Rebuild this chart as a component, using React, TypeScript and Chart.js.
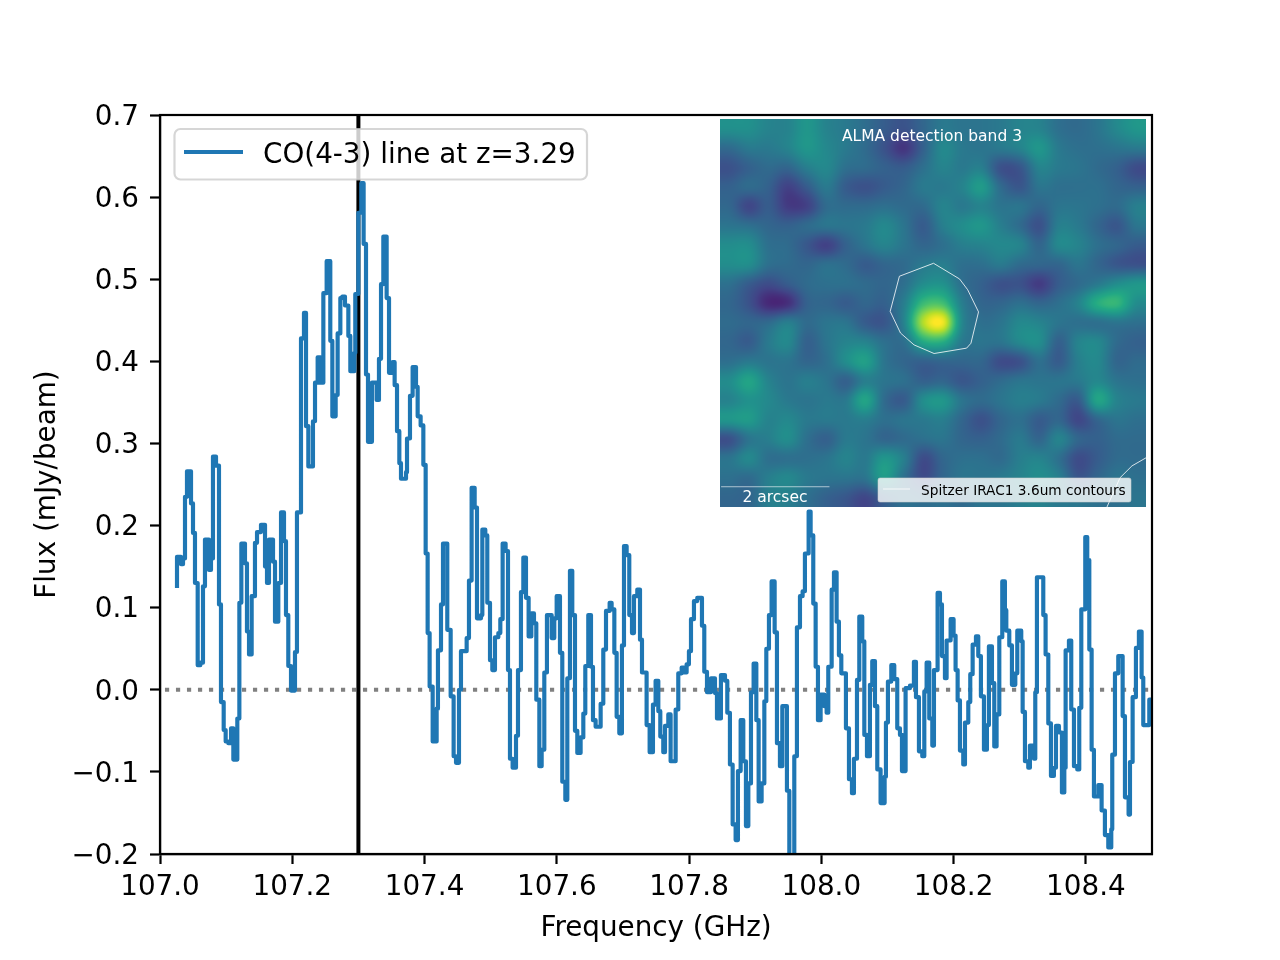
import { useEffect, useRef } from "react"
import { Chart, registerables } from "chart.js"

Chart.register(...registerables)

const FONT = "'DejaVu Sans', sans-serif"
const BLUE = "#1f77b4"

// channel edges (GHz) and flux (mJy/beam)
const freqs = [
  107.0257, 107.0257, 107.0318, 107.0348, 107.0378, 107.0408, 107.0469, 107.0499, 107.0529, 107.057,
  107.061, 107.065, 107.068, 107.0741, 107.0771, 107.0801, 107.0847, 107.0892, 107.0922, 107.0963,
  107.0993, 107.1033, 107.1074, 107.1109, 107.1169, 107.12, 107.123, 107.1285, 107.1315, 107.1346,
  107.1386, 107.1436, 107.1467, 107.1527, 107.1588, 107.1618, 107.1648, 107.1709, 107.1739, 107.1789,
  107.183, 107.1875, 107.1905, 107.194, 107.1981, 107.2041, 107.2071, 107.2132, 107.2177, 107.2208,
  107.2243, 107.2313, 107.2344, 107.2384, 107.2429, 107.247, 107.252, 107.2575, 107.2606, 107.2656,
  107.2686, 107.2727, 107.2757, 107.2797, 107.2848, 107.2878, 107.2938, 107.2953, 107.2999, 107.3044,
  107.3079, 107.3115, 107.3145, 107.3205, 107.3276, 107.3311, 107.3342, 107.3377, 107.3427, 107.3463,
  107.3518, 107.3548, 107.3584, 107.3619, 107.3644, 107.372, 107.3735, 107.378, 107.382, 107.3871,
  107.3896, 107.3941, 107.3982, 107.4017, 107.4047, 107.4077, 107.4123, 107.4183, 107.4203, 107.4249,
  107.4279, 107.4344, 107.4395, 107.444, 107.4476, 107.4521, 107.4551, 107.4637, 107.4672, 107.4712,
  107.4758, 107.4793, 107.4854, 107.4874, 107.4919, 107.4949, 107.499, 107.5025, 107.5065, 107.5116,
  107.5146, 107.5181, 107.5226, 107.5262, 107.5292, 107.5332, 107.5383, 107.5413, 107.5458, 107.5494,
  107.5534, 107.5574, 107.5615, 107.5655, 107.569, 107.5736, 107.5771, 107.5811, 107.5851, 107.5922,
  107.5962, 107.5998, 107.6048, 107.6083, 107.6129, 107.6159, 107.6199, 107.6234, 107.6275, 107.631,
  107.636, 107.6401, 107.6431, 107.6476, 107.6517, 107.6547, 107.6587, 107.6663, 107.6703, 107.6744,
  107.6799, 107.6829, 107.687, 107.6905, 107.6945, 107.6985, 107.7016, 107.7056, 107.7096, 107.7137,
  107.7167, 107.7217, 107.7258, 107.7288, 107.7358, 107.7404, 107.7454, 107.7494, 107.7535, 107.7565,
  107.761, 107.7636, 107.7686, 107.7721, 107.7797, 107.7837, 107.7888, 107.7923, 107.7963, 107.7998,
  107.8029, 107.8074, 107.8124, 107.8195, 107.823, 107.8271, 107.8331, 107.8392, 107.8422, 107.8482,
  107.8543, 107.8578, 107.8618, 107.8659, 107.8704, 107.8739, 107.878, 107.882, 107.886, 107.8896,
  107.8936, 107.8976, 107.9017, 107.9052, 107.9097, 107.9138, 107.9168, 107.9208, 107.9248, 107.9294,
  107.9329, 107.9374, 107.941, 107.948, 107.9516, 107.9591, 107.9631, 107.9677, 107.9717, 107.9752,
  107.9808, 107.9838, 107.9878, 107.9914, 107.9949, 107.9989, 108.0045, 108.008, 108.0105, 108.0156,
  108.0191, 108.0231, 108.0266, 108.0302, 108.0372, 108.0418, 108.0463, 108.0493, 108.0539, 108.0574,
  108.0619, 108.065, 108.069, 108.0735, 108.077, 108.0811, 108.0846, 108.0896, 108.0957, 108.0977,
  108.1007, 108.1058, 108.1103, 108.1148, 108.1189, 108.1219, 108.1274, 108.134, 108.14, 108.1431,
  108.1476, 108.1526, 108.1557, 108.1592, 108.1632, 108.1678, 108.1703, 108.1758, 108.1794, 108.1824,
  108.1869, 108.1894, 108.1955, 108.2, 108.203, 108.2061, 108.2096, 108.2146, 108.2172, 108.2222,
  108.2252, 108.2288, 108.2338, 108.2373, 108.2413, 108.2459, 108.2504, 108.2534, 108.258, 108.2615,
  108.265, 108.2691, 108.2736, 108.2776, 108.2797, 108.2842, 108.2882, 108.2933, 108.2963, 108.3023,
  108.3044, 108.3079, 108.3129, 108.3154, 108.3215, 108.3235, 108.326, 108.3356, 108.3391, 108.3432,
  108.3472, 108.3517, 108.3548, 108.3593, 108.3638, 108.3674, 108.3694, 108.3744, 108.3779, 108.382,
  108.387, 108.39, 108.3931, 108.3991, 108.4021, 108.4052, 108.4087, 108.4122, 108.4188, 108.4238,
  108.4288, 108.4339, 108.4384, 108.4399, 108.444, 108.449, 108.4556, 108.4591, 108.4646, 108.4667,
  108.4707, 108.4757, 108.4802, 108.4843, 108.4868, 108.4959, 108.4985, 108.5,
]
const flux = [
  0.124, 0.162, 0.153, 0.16, 0.235, 0.266, 0.227, 0.191, 0.13, 0.03,
  0.033, 0.126, 0.183, 0.146, 0.16, 0.284, 0.273, 0.104, -0.015, -0.049,
  -0.063, -0.065, -0.047, -0.085, -0.035, 0.106, 0.178, 0.154, 0.071, 0.043,
  0.114, 0.179, 0.192, 0.201, 0.15, 0.13, 0.183, 0.156, 0.083, 0.13,
  0.216, 0.181, 0.091, 0.029, -0.001, 0.046, 0.216, 0.428, 0.459, 0.321,
  0.272, 0.327, 0.374, 0.405, 0.374, 0.483, 0.522, 0.425, 0.333, 0.359,
  0.434, 0.477, 0.479, 0.468, 0.431, 0.388, 0.41, 0.482, 0.581, 0.617,
  0.543, 0.384, 0.302, 0.374, 0.353, 0.403, 0.494, 0.552, 0.477, 0.386,
  0.399, 0.371, 0.315, 0.276, 0.257, 0.265, 0.306, 0.358, 0.393, 0.369,
  0.333, 0.322, 0.274, 0.166, 0.069, 0.004, -0.063, -0.023, 0.048, 0.104,
  0.178, 0.073, -0.008, -0.081, -0.089, 0.0, 0.047, 0.063, 0.133, 0.246,
  0.222, 0.087, 0.091, 0.195, 0.188, 0.106, 0.036, 0.024, 0.064, 0.069,
  0.086, 0.178, 0.169, 0.024, -0.084, -0.095, -0.056, 0.024, 0.119, 0.161,
  0.112, 0.065, 0.093, 0.081, -0.012, -0.093, -0.073, 0.021, 0.091, 0.063,
  0.087, 0.114, 0.045, -0.112, -0.134, 0.014, 0.145, 0.091, -0.05, -0.077,
  -0.058, -0.029, 0.029, 0.091, 0.028, -0.037, -0.045, -0.017, 0.049, 0.096,
  0.106, 0.098, 0.045, -0.033, -0.053, 0.054, 0.175, 0.164, 0.091, 0.069,
  0.114, 0.122, 0.061, 0.021, -0.043, -0.076, -0.018, 0.011, -0.026, -0.057,
  -0.076, -0.044, -0.03, -0.087, -0.024, 0.02, 0.027, 0.021, 0.031, 0.047,
  0.086, 0.108, 0.112, 0.078, 0.022, -0.003, 0.014, -0.004, -0.035, 0.018,
  0.011, -0.028, -0.091, -0.164, -0.183, -0.099, -0.037, -0.087, -0.166, -0.114,
  -0.003, 0.032, -0.037, -0.136, -0.114, -0.014, 0.05, 0.091, 0.132, 0.07,
  -0.065, -0.093, -0.02, -0.123, -0.205, -0.081, 0.076, 0.114, 0.12, 0.166,
  0.217, 0.188, 0.105, 0.028, -0.037, -0.006, -0.02, -0.028, 0.028, 0.122,
  0.143, 0.083, 0.042, 0.02, -0.047, -0.109, -0.126, -0.084, 0.012, 0.089,
  0.059, -0.055, -0.081, 0.006, 0.035, -0.02, -0.097, -0.138, -0.106, -0.04,
  0.01, 0.03, 0.013, -0.047, -0.055, -0.099, 0.002, 0.005, 0.034, -0.009,
  -0.075, -0.081, -0.002, 0.033, -0.035, -0.068, 0.024, 0.118, 0.104, 0.041,
  0.014, 0.06, 0.086, 0.066, 0.024, -0.013, -0.074, -0.091, -0.04, -0.015,
  0.019, 0.055, 0.065, 0.041, -0.008, -0.073, -0.043, 0.053, 0.008, -0.069,
  -0.03, 0.064, 0.132, 0.097, 0.072, 0.054, 0.006, 0.02, 0.072, 0.059,
  -0.027, -0.087, -0.095, -0.068, -0.084, -0.003, 0.137, 0.091, 0.043, -0.041,
  -0.105, -0.095, -0.044, -0.052, -0.125, -0.095, 0.048, 0.06, -0.024, -0.093,
  -0.097, -0.022, 0.098, 0.186, 0.158, 0.049, -0.073, -0.13, -0.116, -0.147,
  -0.177, -0.192, -0.17, -0.079, 0.02, 0.041, -0.032, -0.131, -0.152, -0.088,
  -0.009, 0.051, 0.071, 0.015, -0.043, -0.012, -0.04, -0.04,
]

const xTicks = [107.0, 107.2, 107.4, 107.6, 107.8, 108.0, 108.2, 108.4]
const yTicks = [-0.2, -0.1, 0.0, 0.1, 0.2, 0.3, 0.4, 0.5, 0.6, 0.7]
const lineFreq = [107.3, 107.3]
const lineFlux = [-0.2, 0.7]
const zeroFreq = [107.0075, 108.5]
const zeroFlux = [0, 0]

// inset: ALMA map, normalised 0-1 on a 22 x 20 grid, top row first
const insetMap = [
  [0.47, 0.47, 0.42, 0.42, 0.5, 0.42, 0.38, 0.33, 0.26, 0.22, 0.3, 0.38, 0.36, 0.36, 0.38, 0.42, 0.42, 0.34, 0.32, 0.36, 0.44, 0.5],
  [0.32, 0.38, 0.38, 0.42, 0.5, 0.44, 0.38, 0.32, 0.22, 0.12, 0.28, 0.44, 0.38, 0.36, 0.38, 0.42, 0.5, 0.38, 0.34, 0.34, 0.36, 0.38],
  [0.22, 0.28, 0.32, 0.3, 0.4, 0.44, 0.34, 0.32, 0.28, 0.26, 0.34, 0.42, 0.38, 0.4, 0.22, 0.24, 0.42, 0.38, 0.36, 0.32, 0.28, 0.2],
  [0.28, 0.32, 0.28, 0.16, 0.26, 0.38, 0.26, 0.22, 0.26, 0.3, 0.38, 0.38, 0.42, 0.52, 0.32, 0.24, 0.36, 0.34, 0.34, 0.34, 0.3, 0.28],
  [0.3, 0.18, 0.26, 0.14, 0.16, 0.32, 0.32, 0.32, 0.34, 0.32, 0.32, 0.42, 0.38, 0.42, 0.36, 0.36, 0.3, 0.36, 0.36, 0.34, 0.32, 0.4],
  [0.36, 0.34, 0.3, 0.28, 0.32, 0.36, 0.36, 0.38, 0.44, 0.36, 0.26, 0.4, 0.46, 0.5, 0.4, 0.32, 0.22, 0.4, 0.38, 0.3, 0.24, 0.36],
  [0.46, 0.46, 0.34, 0.32, 0.24, 0.16, 0.28, 0.36, 0.42, 0.36, 0.3, 0.34, 0.4, 0.42, 0.44, 0.42, 0.3, 0.44, 0.42, 0.34, 0.3, 0.26],
  [0.46, 0.46, 0.34, 0.32, 0.3, 0.34, 0.32, 0.26, 0.3, 0.32, 0.38, 0.4, 0.34, 0.34, 0.38, 0.32, 0.3, 0.3, 0.36, 0.3, 0.24, 0.22],
  [0.34, 0.26, 0.2, 0.26, 0.32, 0.34, 0.34, 0.32, 0.3, 0.34, 0.46, 0.48, 0.34, 0.28, 0.22, 0.22, 0.14, 0.26, 0.32, 0.38, 0.46, 0.5],
  [0.3, 0.22, 0.08, 0.1, 0.28, 0.3, 0.26, 0.3, 0.28, 0.4, 0.66, 0.68, 0.4, 0.3, 0.3, 0.34, 0.3, 0.34, 0.42, 0.6, 0.64, 0.46],
  [0.32, 0.3, 0.32, 0.4, 0.32, 0.36, 0.36, 0.26, 0.24, 0.42, 0.88, 0.98, 0.44, 0.34, 0.36, 0.44, 0.42, 0.36, 0.34, 0.34, 0.36, 0.34],
  [0.3, 0.26, 0.38, 0.44, 0.28, 0.36, 0.42, 0.42, 0.34, 0.34, 0.58, 0.6, 0.38, 0.36, 0.36, 0.44, 0.46, 0.28, 0.42, 0.44, 0.32, 0.28],
  [0.34, 0.38, 0.36, 0.36, 0.3, 0.34, 0.46, 0.54, 0.36, 0.3, 0.28, 0.3, 0.3, 0.3, 0.2, 0.22, 0.34, 0.26, 0.4, 0.44, 0.3, 0.32],
  [0.46, 0.56, 0.42, 0.36, 0.4, 0.36, 0.28, 0.4, 0.36, 0.34, 0.28, 0.3, 0.24, 0.28, 0.32, 0.36, 0.36, 0.36, 0.38, 0.44, 0.36, 0.34],
  [0.42, 0.48, 0.44, 0.38, 0.36, 0.38, 0.38, 0.56, 0.32, 0.26, 0.46, 0.5, 0.36, 0.32, 0.36, 0.4, 0.38, 0.32, 0.26, 0.56, 0.42, 0.38],
  [0.5, 0.52, 0.42, 0.44, 0.38, 0.38, 0.38, 0.4, 0.34, 0.36, 0.38, 0.4, 0.3, 0.22, 0.3, 0.34, 0.26, 0.3, 0.18, 0.3, 0.36, 0.34],
  [0.22, 0.36, 0.4, 0.46, 0.34, 0.28, 0.38, 0.36, 0.3, 0.32, 0.34, 0.36, 0.3, 0.28, 0.32, 0.38, 0.3, 0.42, 0.3, 0.28, 0.32, 0.32],
  [0.36, 0.44, 0.34, 0.34, 0.34, 0.36, 0.42, 0.38, 0.5, 0.4, 0.2, 0.3, 0.34, 0.34, 0.32, 0.4, 0.42, 0.34, 0.2, 0.26, 0.32, 0.32],
  [0.34, 0.32, 0.4, 0.44, 0.38, 0.36, 0.36, 0.36, 0.52, 0.34, 0.2, 0.3, 0.36, 0.36, 0.38, 0.42, 0.46, 0.4, 0.24, 0.3, 0.36, 0.34],
  [0.3, 0.3, 0.4, 0.4, 0.34, 0.28, 0.24, 0.18, 0.28, 0.34, 0.32, 0.34, 0.32, 0.36, 0.36, 0.4, 0.42, 0.38, 0.36, 0.34, 0.34, 0.36],
]
const insetWidth = 7.86 // arcsec
const insetHeight = 7.18

// IRAC1 contours, arcsec from the lower left corner
const contourX = [3.94, 4.42, 4.57, 4.77, 4.63, 4.55, 3.95, 3.58, 3.33, 3.14, 3.31, 3.94]
const contourY = [4.51, 4.22, 4.02, 3.61, 3.03, 2.94, 2.84, 3.0, 3.22, 3.62, 4.27, 4.51]
const cornerX = [7.86, 7.6, 7.38, 7.14]
const cornerY = [0.91, 0.76, 0.54, 0.0]
const barX = [0.02, 2.02]
const barY = [0.375, 0.375]

const viridis = [
  [68, 1, 84], [72, 36, 117], [65, 68, 135], [53, 95, 141], [42, 120, 142],
  [33, 145, 140], [34, 168, 132], [68, 191, 112], [122, 209, 81], [189, 223, 38], [253, 231, 37],
]

function viridisColor(v: number) {
  // map sits a touch above the raw reading, lifts the background to teal
  const t = Math.max(0, Math.min(0.9999, 0.04 + v * 0.96)) * (viridis.length - 1)
  const i = Math.floor(t)
  const f = t - i
  return viridis[i].map((c, k) => c + (viridis[i + 1][k] - c) * f)
}

function catmull(a: number, b: number, c: number, d: number, t: number) {
  return 0.5 * (2 * b + (c - a) * t + (2 * a - 5 * b + 4 * c - d) * t * t + (3 * b - a - 3 * c + d) * t * t * t)
}

function sampleMap(col: number, row: number) {
  const rows = insetMap.length
  const cols = insetMap[0].length
  const c0 = Math.floor(col)
  const r0 = Math.floor(row)
  const at = (r: number, c: number) => insetMap[Math.max(0, Math.min(rows - 1, r))][Math.max(0, Math.min(cols - 1, c))]
  const vals = [-1, 0, 1, 2].map((dr) =>
    catmull(at(r0 + dr, c0 - 1), at(r0 + dr, c0), at(r0 + dr, c0 + 1), at(r0 + dr, c0 + 2), col - c0)
  )
  return catmull(vals[0], vals[1], vals[2], vals[3], row - r0)
}

const heatmapPlugin = {
  id: "heatmap",
  beforeDatasetsDraw(chart: any) {
    const { ctx, chartArea, scales } = chart
    const w = Math.round(chartArea.right - chartArea.left)
    const h = Math.round(chartArea.bottom - chartArea.top)
    const img = ctx.createImageData(w, h)
    const cols = insetMap[0].length
    const rows = insetMap.length
    for (let py = 0; py < h; py++) {
      const yVal = scales.y.getValueForPixel(chartArea.top + py + 0.5)
      const row = ((insetHeight - yVal) / insetHeight) * rows - 0.5
      for (let px = 0; px < w; px++) {
        const xVal = scales.x.getValueForPixel(chartArea.left + px + 0.5)
        const col = (xVal / insetWidth) * cols - 0.5
        const [r, g, b] = viridisColor(sampleMap(col, row))
        const o = (py * w + px) * 4
        img.data[o] = r
        img.data[o + 1] = g
        img.data[o + 2] = b
        img.data[o + 3] = 255
      }
    }
    ctx.putImageData(img, chartArea.left, chartArea.top)
  },
  afterDatasetsDraw(chart: any) {
    const { ctx } = chart
    ctx.save()
    ctx.fillStyle = "#fff"
    ctx.font = `15.5px ${FONT}`
    ctx.textAlign = "center"
    ctx.textBaseline = "middle"
    ctx.fillText("ALMA detection band 3", 212, 18)
    ctx.fillText("2 arcsec", 55, 379)
    // legend box
    ctx.beginPath()
    ctx.roundRect(158, 359, 253, 24, 2)
    ctx.fillStyle = "rgba(255,255,255,0.8)"
    ctx.fill()
    ctx.strokeStyle = "rgba(204,204,204,0.8)"
    ctx.lineWidth = 0.7
    ctx.stroke()
    ctx.beginPath()
    ctx.moveTo(163, 370)
    ctx.lineTo(190, 370)
    ctx.strokeStyle = "rgba(255,255,255,0.8)"
    ctx.lineWidth = 1
    ctx.stroke()
    ctx.fillStyle = "#000"
    ctx.font = `13.7px ${FONT}`
    ctx.textAlign = "left"
    ctx.fillText("Spitzer IRAC1 3.6um contours", 201, 372)
    ctx.restore()
  },
}

const framePlugin = {
  id: "frame",
  afterDatasetsDraw(chart: any) {
    const { ctx, chartArea } = chart
    ctx.save()
    // legend
    ctx.beginPath()
    ctx.roundRect(174.5, 129, 412.5, 50.5, 6)
    ctx.fillStyle = "rgba(255,255,255,0.8)"
    ctx.fill()
    ctx.strokeStyle = "rgba(204,204,204,0.8)"
    ctx.lineWidth = 2.2
    ctx.stroke()
    ctx.beginPath()
    ctx.moveTo(184, 152)
    ctx.lineTo(243, 152)
    ctx.strokeStyle = BLUE
    ctx.lineWidth = 4
    ctx.stroke()
    ctx.fillStyle = "#000"
    ctx.font = `27.8px ${FONT}`
    ctx.textBaseline = "middle"
    ctx.fillText("CO(4-3) line at z=3.29", 263, 156)
    // spines
    ctx.strokeStyle = "#000"
    ctx.lineWidth = 2.2
    ctx.strokeRect(chartArea.left, chartArea.top, chartArea.right - chartArea.left, chartArea.bottom - chartArea.top)
    ctx.restore()
  },
}

function pairs(xs: number[], ys: number[]) {
  return xs.map((x, i) => ({ x, y: ys[i] }))
}

export default function App() {
  const chartRef = useRef<HTMLCanvasElement>(null)
  const insetRef = useRef<HTMLCanvasElement>(null)

  useEffect(() => {
    if (!chartRef.current || !insetRef.current) return

    const main = new Chart(chartRef.current, {
      type: "scatter",
      data: {
        datasets: [
          {
            label: "CO(4-3) line at z=3.29",
            data: pairs(freqs, flux),
            showLine: true,
            stepped: true,
            borderColor: BLUE,
            borderWidth: 4.17,
            borderJoinStyle: "round",
            pointRadius: 0,
            clip: 0,
            order: 1,
          },
          {
            data: pairs(lineFreq, lineFlux),
            showLine: true,
            borderColor: "#000",
            borderWidth: 4,
            pointRadius: 0,
            order: 2,
          },
          {
            data: pairs(zeroFreq, zeroFlux),
            showLine: true,
            borderColor: "#808080",
            borderWidth: 4.17,
            borderDash: [4.2, 6.8],
            pointRadius: 0,
            clip: 0,
            order: 3,
          },
        ] as any,
      },
      options: {
        animation: false,
        responsive: false,
        devicePixelRatio: 1,
        layout: { padding: { left: 0, right: 128, top: 115, bottom: 0 } },
        plugins: { legend: { display: false }, tooltip: { enabled: false } },
        scales: {
          x: {
            type: "linear",
            min: 107,
            max: 108.5,
            afterFit: (scale: any) => {
              scale.height = 106
            },
            afterBuildTicks: (axis: any) => {
              axis.ticks = xTicks.map((value) => ({ value }))
            },
            grid: { drawOnChartArea: false, tickLength: 10, tickWidth: 2.2, tickColor: "#000" },
            border: { display: true, color: "#000", width: 2.2 },
            ticks: {
              color: "#000",
              font: { family: FONT, size: 27.8 },
              padding: 7,
              maxRotation: 0,
              autoSkip: false,
              callback: (v: any) => Number(v).toFixed(1),
            },
            title: {
              display: true,
              text: "Frequency (GHz)",
              color: "#000",
              font: { family: FONT, size: 27.8 },
              padding: { top: 0, bottom: 15 },
            },
          },
          y: {
            type: "linear",
            min: -0.2,
            max: 0.7,
            afterFit: (scale: any) => {
              scale.width = 160
            },
            afterBuildTicks: (axis: any) => {
              axis.ticks = yTicks.map((value) => ({ value }))
            },
            grid: { drawOnChartArea: false, tickLength: 10, tickWidth: 2.2, tickColor: "#000" },
            border: { display: true, color: "#000", width: 2.2 },
            ticks: {
              color: "#000",
              // blank first line + small line height nudges the labels down to match
              font: { family: FONT, size: 27.8, lineHeight: "5px" },
              padding: 11,
              autoSkip: false,
              callback: (v: any) => ["", Number(v).toFixed(1).replace("-", "\u2212")],
            },
            title: {
              display: true,
              text: "Flux (mJy/beam)",
              color: "#000",
              font: { family: FONT, size: 27.8 },
              padding: { top: 31, bottom: 0 },
            },
          },
        },
      },
      plugins: [framePlugin],
    })

    const inset = new Chart(insetRef.current, {
      type: "scatter",
      data: {
        datasets: [
          { data: pairs(contourX, contourY), showLine: true, borderColor: "rgba(255,255,255,0.8)", borderWidth: 1, pointRadius: 0 },
          { data: pairs(cornerX, cornerY), showLine: true, borderColor: "rgba(255,255,255,0.8)", borderWidth: 1, pointRadius: 0 },
          { data: pairs(barX, barY), showLine: true, borderColor: "rgba(255,255,255,0.6)", borderWidth: 1, pointRadius: 0 },
        ] as any,
      },
      options: {
        animation: false,
        responsive: false,
        devicePixelRatio: 1,
        layout: { padding: 0 },
        plugins: { legend: { display: false }, tooltip: { enabled: false } },
        scales: {
          x: { type: "linear", min: 0, max: insetWidth, display: false },
          y: { type: "linear", min: 0, max: insetHeight, display: false },
        },
      },
      plugins: [heatmapPlugin],
    })

    return () => {
      main.destroy()
      inset.destroy()
    }
  }, [])

  return (
    <div style={{ position: "absolute", left: 0, top: 0, width: 1280, height: 960, background: "#fff" }}>
      <canvas ref={chartRef} width={1280} height={960} style={{ position: "absolute", left: 0, top: 0 }} />
      <canvas ref={insetRef} width={426} height={388} style={{ position: "absolute", left: 720, top: 119 }} />
    </div>
  )
}
